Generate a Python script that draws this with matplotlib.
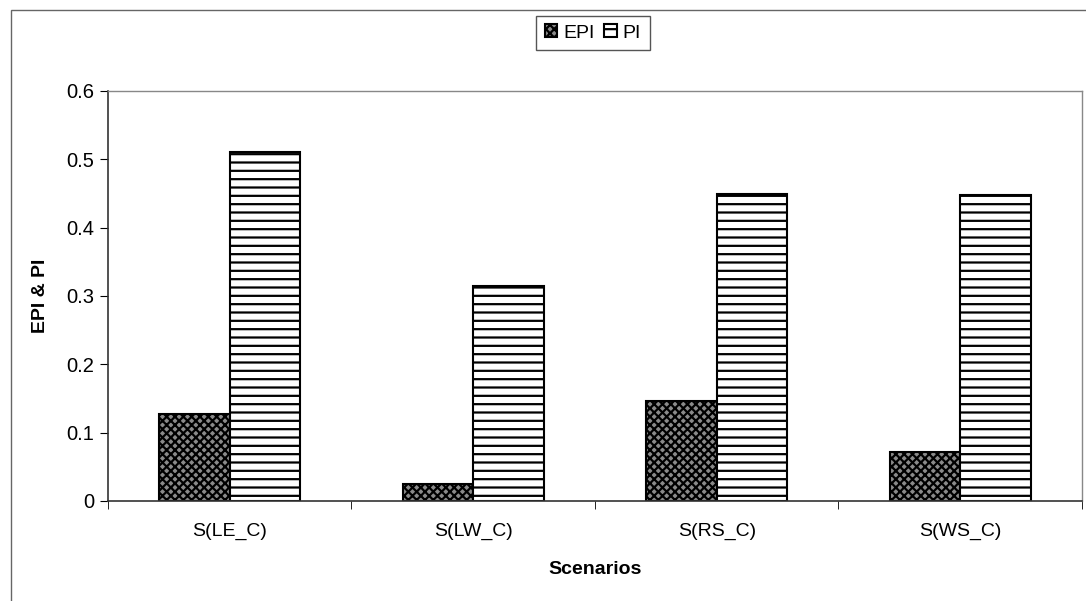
import matplotlib
matplotlib.use('Agg')
import matplotlib.pyplot as plt
import numpy as np
from matplotlib.patches import Rectangle

scenarios = ['S(LE_C)', 'S(LW_C)', 'S(RS_C)', 'S(WS_C)']
epi = [0.127, 0.025, 0.147, 0.072]
pi = [0.511, 0.315, 0.449, 0.448]
yticks = [0, 0.1, 0.2, 0.3, 0.4, 0.5, 0.6]
ytick_labels = ['0', '0.1', '0.2', '0.3', '0.4', '0.5', '0.6']

plt.rcParams['font.family'] = ['Liberation Sans', 'DejaVu Sans']
plt.rcParams['hatch.linewidth'] = 1.6

fig = plt.figure(figsize=(10.86, 6.01), dpi=100)
ax = fig.add_axes([0.0994, 0.1664, 0.8969, 0.6822])

# outer chart frame
fig.patches.append(Rectangle((11 / 1086, -0.02), 1.05, 0.02 + 591 / 601,
                             transform=fig.transFigure, fill=False,
                             edgecolor='#666666', linewidth=1.0))

x = np.arange(len(scenarios))
w = 0.29
ax.bar(x - w / 2, epi, w, facecolor='#8a8a8a', edgecolor='black',
       hatch='xxxx', linewidth=1.5, label='EPI')
ax.bar(x + w / 2, pi, w, facecolor='white', edgecolor='black',
       hatch='--', linewidth=1.5, label='PI')

ax.set_xlim(-0.5, len(scenarios) - 0.5)
ax.set_ylim(0, 0.6)
ax.set_yticks(yticks)
ax.set_yticklabels(ytick_labels, fontsize=14.5)
ax.set_xticks(x)
ax.set_xticklabels(scenarios, fontsize=14)
ax.tick_params(axis='x', length=0, pad=16)
ax.set_xticks(np.arange(len(scenarios) + 1) - 0.5, minor=True)
ax.tick_params(axis='x', which='minor', length=6, direction='out')
ax.tick_params(axis='y', length=6, direction='out', pad=4)

for s in ['left', 'bottom']:
    ax.spines[s].set_color('#333333')
    ax.spines[s].set_linewidth(1.2)
for s in ['top', 'right']:
    ax.spines[s].set_color('#888888')
    ax.spines[s].set_linewidth(1.0)

ax.set_ylabel('EPI & PI', fontsize=14, fontweight='bold', labelpad=12)
ax.set_xlabel('Scenarios', fontsize=14, fontweight='bold', labelpad=15)

leg = fig.legend(loc='center', bbox_to_anchor=(593 / 1086, 1 - 33 / 601),
                 ncol=2, fontsize=14, handlelength=0.65, handleheight=0.65,
                 handletextpad=0.3, columnspacing=0.5, borderpad=0.45,
                 fancybox=False, framealpha=1, edgecolor='#555555')
leg.get_frame().set_linewidth(1.0)

fig.savefig('out.png', dpi=100)
